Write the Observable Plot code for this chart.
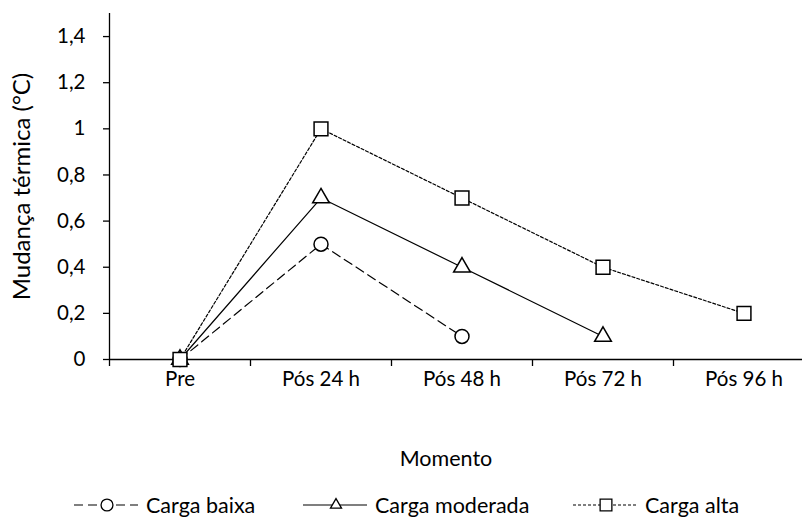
<!DOCTYPE html>
<html>
<head>
<meta charset="utf-8">
<script src="https://cdn.jsdelivr.net/npm/d3@7"></script>
<script src="https://cdn.jsdelivr.net/npm/@observablehq/plot@0.6"></script>
<style>
  html, body { margin: 0; padding: 0; background: #fff; }
  body { width: 802px; height: 532px; position: relative; overflow: hidden; font-family: Lato, "Open Sans", sans-serif; color: #000; }
  #legend { position: absolute; left: 0; top: 490px; width: 802px; height: 30px; }
  .item { position: absolute; top: 0; height: 30px; display: flex; align-items: center; font-size: 21.5px; }
  .item svg { margin-right: 8px; }
</style>
</head>
<body>
<div id="chart"></div>
<div id="legend"></div>
<script>
// ---- data ----
const momentos = ["Pre", "Pós 24 h", "Pós 48 h", "Pós 72 h", "Pós 96 h"];
const seriesNames = ["Carga baixa", "Carga moderada", "Carga alta"];
const cargaBaixa = [0, 0.5, 0.1];
const cargaModerada = [0, 0.7, 0.4, 0.1];
const cargaAlta = [0, 1.0, 0.7, 0.4, 0.2];
const yTicks = [0, 0.2, 0.4, 0.6, 0.8, 1.0, 1.2, 1.4];
const yLabel = "Mudança térmica (°C)";
const xLabel = "Momento";

// ---- styling per series ----
const styles = {
  "Carga baixa":    {values: cargaBaixa,    symbol: "circle",   r: 7,   dash: "9,5"},
  "Carga moderada": {values: cargaModerada, symbol: "triangle", r: 6.2, dash: null},
  "Carga alta":     {values: cargaAlta,     symbol: "square",   r: 7.8, dash: "3,2"}
};

const data = seriesNames.flatMap(s => styles[s].values.map((v, i) => ({serie: s, i, momento: momentos[i], v})));
const idx = momentos.map((_, i) => i);
const bounds = [-0.5, ...idx.slice(0, -1).map(i => i + 0.5)];
const fmt = d => String(+d.toFixed(1)).replace(".", ",");

const W = 802, H = 485, frameTop = 13, frameBottom = 359;

const marks = [];
// axes
marks.push(Plot.ruleY([0], {stroke: "#000", strokeWidth: 1.3}));
marks.push(Plot.ruleX([-0.5], {stroke: "#000", strokeWidth: 1.3}));
marks.push(Plot.axisY(yTicks, {tickSize: 6, tickPadding: 18, tickFormat: fmt, fontSize: 20.5, label: null, strokeWidth: 1.3}));
marks.push(Plot.axisX(bounds, {tickSize: 7, tickFormat: () => "", label: null, strokeWidth: 1.3}));
marks.push(Plot.axisX(idx, {tickSize: 0, tickPadding: 12, tickFormat: i => momentos[i], fontSize: 20.5, label: null}));
marks.push(Plot.text([xLabel], {frameAnchor: "bottom", dx: -10, dy: 106, fontSize: 21.5}));
marks.push(Plot.text([yLabel], {frameAnchor: "left", textAnchor: "middle", rotate: -90, dx: -87, dy: 0, fontSize: 24}));
// lines
for (const s of seriesNames) {
  const st = styles[s];
  marks.push(Plot.line(data.filter(d => d.serie === s), {x: "i", y: "v", stroke: "#000", strokeWidth: 1.2, strokeDasharray: st.dash}));
}
// markers
for (const s of seriesNames) {
  const st = styles[s];
  marks.push(Plot.dot(data.filter(d => d.serie === s), {x: "i", y: "v", symbol: () => st.symbol, r: st.r, stroke: "#000", fill: "#fff", strokeWidth: 1.5}));
}

const chart = Plot.plot({
  width: W,
  height: H,
  marginTop: frameTop,
  marginBottom: H - frameBottom,
  marginLeft: 109,
  marginRight: 0,
  style: {fontFamily: "Lato, 'Open Sans', sans-serif", fontSize: "20px", color: "#000", background: "#fff"},
  x: {type: "linear", domain: [-0.5, 4.5], range: [109, 814], axis: null},
  y: {domain: [0, 1.5], axis: null},
  symbol: {type: "identity"},
  marks
});
document.getElementById("chart").appendChild(chart);

// ---- legend (HTML below the SVG) ----
const legendPos = {"Carga baixa": 74, "Carga moderada": 303, "Carga alta": 573};
const legend = document.getElementById("legend");
const ns = "http://www.w3.org/2000/svg";
for (const s of seriesNames) {
  const st = styles[s];
  const item = document.createElement("div");
  item.className = "item";
  item.style.left = legendPos[s] + "px";
  const svg = document.createElementNS(ns, "svg");
  svg.setAttribute("width", 64); svg.setAttribute("height", 20);
  const line = document.createElementNS(ns, "line");
  line.setAttribute("x1", 0); line.setAttribute("x2", 64);
  line.setAttribute("y1", 10); line.setAttribute("y2", 10);
  line.setAttribute("stroke", "#000"); line.setAttribute("stroke-width", 1.2);
  if (st.dash) line.setAttribute("stroke-dasharray", st.dash);
  svg.appendChild(line);
  const p = document.createElementNS(ns, "path");
  const sym = {circle: d3.symbolCircle, triangle: d3.symbolTriangle2, square: d3.symbolSquare}[st.symbol];
  p.setAttribute("d", d3.symbol(sym, Math.PI * (st.r * 0.85) ** 2)());
  p.setAttribute("transform", "translate(33,10)");
  p.setAttribute("fill", "#fff"); p.setAttribute("stroke", "#000"); p.setAttribute("stroke-width", 1.3);
  svg.appendChild(p);
  item.appendChild(svg);
  const t = document.createElement("span");
  t.textContent = s;
  item.appendChild(t);
  legend.appendChild(item);
}
</script>
</body>
</html>
